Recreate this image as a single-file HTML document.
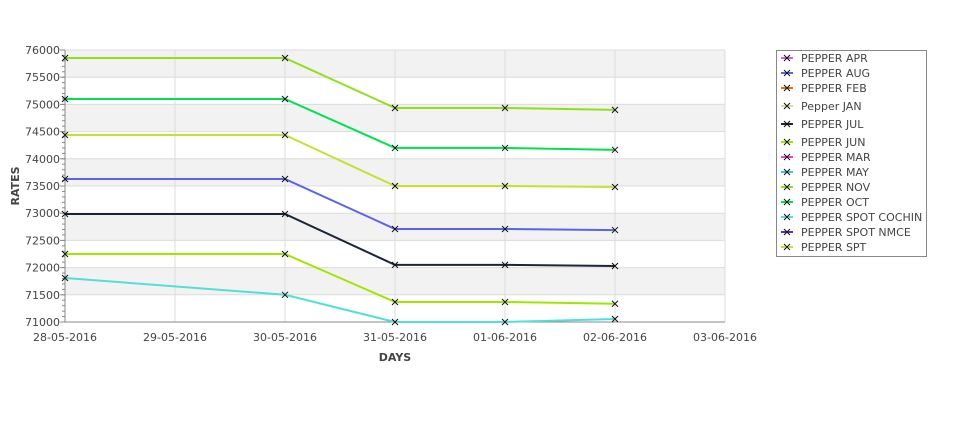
<!DOCTYPE html>
<html><head><meta charset="utf-8"><style>
body{margin:0;background:#fff;width:975px;height:429px;overflow:hidden;font-family:"Liberation Sans","DejaVu Sans",sans-serif}
svg text{font-family:"DejaVu Sans","Liberation Sans",sans-serif;fill:#444}
</style></head><body>
<svg id="chart" width="975" height="429" xmlns="http://www.w3.org/2000/svg">
<g id="bands"></g><g id="grid"></g><g id="axes"></g><g id="series"></g><g id="legend"></g>
</svg>
<script>
const dates=["28-05-2016","29-05-2016","30-05-2016","31-05-2016","01-06-2016","02-06-2016","03-06-2016"];
const yTicks=[71000,71500,72000,72500,73000,73500,74000,74500,75000,75500,76000];
const pointDays=[0,2,3,4,5];
const sNOV=[75853,75853,74934,74934,74900];
const sOCT=[75100,75100,74200,74200,74165];
const sSPT=[74437,74437,73500,73500,73482];
const sAUG=[73629,73629,72710,72710,72690];
const sJUL=[72985,72985,72050,72050,72030];
const sJUN=[72250,72250,71368,71368,71335];
const sCOCHIN=[71809,71500,71000,71000,71055];
const legendNames=["PEPPER APR","PEPPER AUG","PEPPER FEB","Pepper JAN","PEPPER JUL","PEPPER JUN","PEPPER MAR","PEPPER MAY","PEPPER NOV","PEPPER OCT","PEPPER SPOT COCHIN","PEPPER SPOT NMCE","PEPPER SPT"];
const legendColors=["#d060e0","#5a64e6","#e07010","#d0e0a0","#1a2535","#a0e600","#f040d0","#40c8c8","#8fe01a","#00e050","#50e0d8","#6030b0","#c8e030"];
const NS="http://www.w3.org/2000/svg";
const X0=65,X1=725,Y0=322,Y1=50,VMIN=71000,VMAX=76000;
const xs=d=>X0+d*(X1-X0)/6;
const ys=v=>Y0-(v-VMIN)*(Y0-Y1)/(VMAX-VMIN);
function mk(tag,attrs,parent){const e=document.createElementNS(NS,tag);for(const k in attrs)e.setAttribute(k,attrs[k]);parent.appendChild(e);return e;}
const bands=document.getElementById('bands'),grid=document.getElementById('grid'),axes=document.getElementById('axes'),ser=document.getElementById('series'),leg=document.getElementById('legend');
mk('rect',{x:X0,y:Y1,width:X1-X0,height:Y0-Y1,fill:'#fff'},bands);
for(let i=2;i<yTicks.length;i+=2){const r=mk('rect',{x:X0,y:ys(yTicks[i]),width:X1-X0,height:ys(yTicks[i-1])-ys(yTicks[i]),fill:'#f2f2f2'},bands);

}
yTicks.forEach(v=>{const l=mk('line',{x1:X0,x2:X1,y1:ys(v),y2:ys(v),stroke:'#dcdcdc'},grid);


const t=mk('text',{x:60,y:ys(v)+4,'text-anchor':'end','font-size':'11'},axes);t.textContent=v;


mk('line',{x1:60,x2:X0,y1:ys(v),y2:ys(v),stroke:'#888'},axes);});
for(let v=VMIN;v<=VMAX;v+=100){mk('line',{x1:62,x2:X0,y1:ys(v),y2:ys(v),stroke:'#888'},axes);}
dates.forEach((d,i)=>{const l=mk('line',{x1:xs(i),x2:xs(i),y1:Y1,y2:Y0,stroke:'#dcdcdc'},grid);


const t=mk('text',{x:xs(i),y:341,'text-anchor':'middle','font-size':'11'},axes);t.textContent=d;

});
mk('line',{x1:X0,x2:X0,y1:Y1,y2:Y0,stroke:'#888'},axes);
mk('line',{x1:X0,x2:X1,y1:Y0,y2:Y0,stroke:'#888'},axes);
const xt=mk('text',{x:395,y:361,'text-anchor':'middle','font-size':'11','font-weight':'bold'},axes);xt.textContent='DAYS';


const yt=mk('text',{x:0,y:0,transform:'translate(19,186) rotate(-90)','text-anchor':'middle','font-size':'11','font-weight':'bold'},axes);yt.textContent='RATES';


const all=[[sCOCHIN,'#50e0d8','cochin'],[sJUN,'#a0e600','jun'],[sJUL,'#1a2535','jul'],[sAUG,'#5a64e6','aug'],[sSPT,'#c8e030','spt'],[sOCT,'#00e050','oct'],[sNOV,'#8fe01a','nov']];
all.forEach(([vals,c,n])=>{const pts=vals.map((v,i)=>xs(pointDays[i])+','+ys(v)).join(' ');
const p=mk('polyline',{points:pts,fill:'none',stroke:c,'stroke-width':2},ser);


vals.forEach((v,i)=>{const x=xs(pointDays[i]),y=ys(v);
const m=mk('path',{d:`M${x-3},${y-3}L${x+3},${y+3}M${x-3},${y+3}L${x+3},${y-3}`,stroke:'#111','stroke-width':1},ser);

});});
const box=mk('rect',{x:776.5,y:50.5,width:150,height:206,fill:'#fff',stroke:'#888'},leg);


const rowY=[58,73,88,106,124,142,157,172,187,202,217,232,247];
legendNames.forEach((n,i)=>{const y=rowY[i];
mk('line',{x1:781,x2:793,y1:y,y2:y,stroke:legendColors[i],'stroke-width':2},leg);
mk('path',{d:`M784,${y-3}L790,${y+3}M784,${y+3}L790,${y-3}`,stroke:'#111'},leg);
const t=mk('text',{x:801,y:y+4,'font-size':'11'},leg);t.textContent=n;t.setAttribute('fill','#222');

});
</script>
</body></html>
